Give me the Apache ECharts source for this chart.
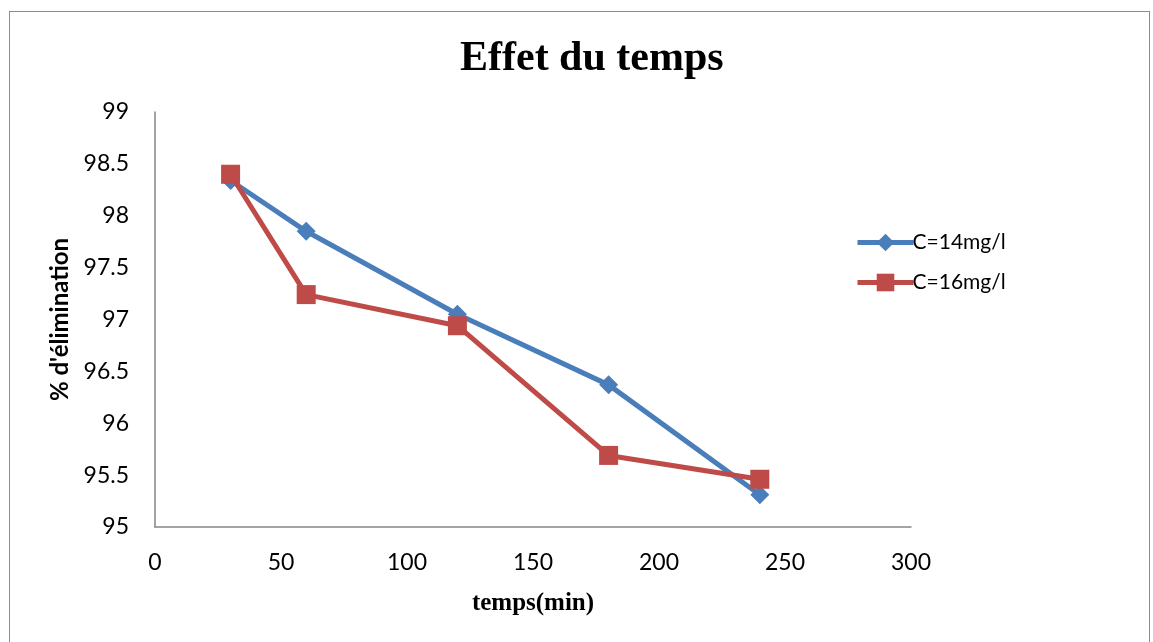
<!DOCTYPE html>
<html>
<head>
<meta charset="utf-8">
<script src="https://cdn.jsdelivr.net/npm/echarts@6/dist/echarts.min.js"></script>
<style>
  html, body { margin: 0; padding: 0; background: #fff; }
  #frame { position: absolute; left: 9px; top: 11px; width: 1141px; height: 640px; border: 1px solid #8c8c8c; border-bottom: none; box-sizing: border-box; }
  #chart { position: absolute; left: 0; top: 0; width: 1153px; height: 642px; }
</style>
</head>
<body>
<div id="frame"></div>
<div id="chart"></div>
<script>
// Removal percentage over contact time, two initial concentrations
const timesMin = [30, 60, 120, 180, 240];
const removal14 = [98.34, 97.85, 97.05, 96.37, 95.31];
const removal16 = [98.40, 97.24, 96.94, 95.69, 95.46];
const seriesNames = ['C=14mg/l', 'C=16mg/l'];

const chart = echarts.init(document.getElementById('chart'), null, { renderer: 'canvas' });

const toPairs = (xs, ys) => xs.map((x, i) => [x, ys[i]]);
const labelFont = 'Lato, "Open Sans", sans-serif';
const serifFont = '"Liberation Serif", "Times New Roman", serif';

chart.setOption({
  animation: false,
  backgroundColor: 'transparent',
  title: {
    text: 'Effet du temps',
    left: 455,
    top: 33,
    textStyle: { fontFamily: serifFont, fontWeight: 'bold', fontSize: 42, color: '#000' }
  },
  legend: {
    orient: 'vertical',
    left: 850,
    top: 227,
    itemGap: 19,
    itemWidth: 56,
    itemHeight: 22,
    lineStyle: { width: 5 },
    textStyle: { fontFamily: labelFont, fontSize: 21, color: '#000', padding: [0, 0, 0, -6] },
    data: seriesNames
  },
  grid: { left: 155, right: 242, top: 112, bottom: 115 },
  xAxis: {
    type: 'value',
    min: 0, max: 300, interval: 50,
    name: 'temps(min)',
    nameLocation: 'middle',
    nameGap: 64,
    nameTextStyle: { fontFamily: serifFont, fontWeight: 'bold', fontSize: 25, color: '#000' },
    axisLine: { lineStyle: { color: '#868686', width: 1.5 } },
    axisTick: { show: false },
    splitLine: { show: false },
    axisLabel: { fontFamily: labelFont, fontSize: 23, color: '#000', margin: 24 }
  },
  yAxis: {
    type: 'value',
    min: 95, max: 99, interval: 0.5,
    name: "% d'élimination",
    nameLocation: 'middle',
    nameGap: 80,
    nameRotate: 90,
    nameTextStyle: { fontFamily: labelFont, fontWeight: 'bold', fontSize: 24, color: '#000' },
    axisLine: { show: true, lineStyle: { color: '#868686', width: 1.5 } },
    axisTick: { show: false },
    splitLine: { show: false },
    axisLabel: { fontFamily: labelFont, fontSize: 23, color: '#000', margin: 26 }
  },
  series: [
    {
      name: seriesNames[0],
      type: 'line',
      data: toPairs(timesMin, removal14),
      symbol: 'diamond',
      symbolSize: 19,
      lineStyle: { color: '#4A7EBB', width: 5 },
      itemStyle: { color: '#4A7EBB' },
      z: 2
    },
    {
      name: seriesNames[1],
      type: 'line',
      data: toPairs(timesMin, removal16),
      symbol: 'rect',
      symbolSize: 19,
      lineStyle: { color: '#BE4B48', width: 5 },
      itemStyle: { color: '#BE4B48' },
      z: 3
    }
  ]
});
</script>
</body>
</html>
